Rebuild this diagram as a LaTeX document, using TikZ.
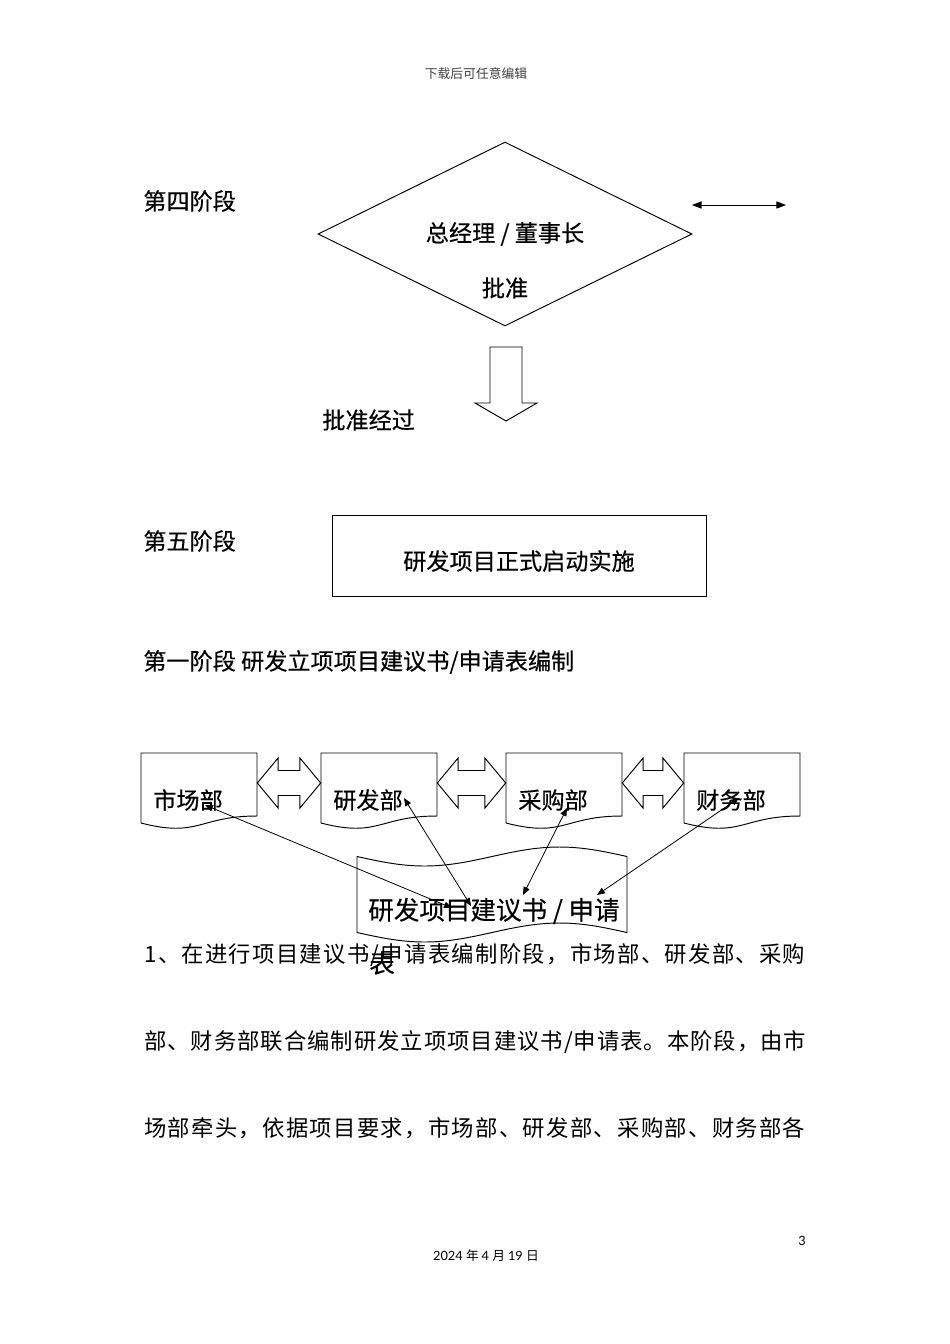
\documentclass[tikz,border=0pt]{standalone}
\usepackage{fontspec}
\setmainfont{Noto Sans CJK SC}
\newfontfamily\lblfont[FakeBold=0.35]{Noto Sans CJK SC}
\newfontfamily\latofont{Lato}
\usetikzlibrary{arrows.meta,calc,shapes.geometric}
\def\spreadtext#1{\sprfirst#1\relax}
\def\sprfirst#1{#1\sprloop}
\def\sprloop#1{\ifx#1\relax\else\hskip0pt plus 1fil #1\expandafter\sprloop\fi}
\tikzset{
  txt/.style={font=\fontsize{14pt}{16pt}\selectfont, inner sep=0pt, text=black},
  lbl/.style={font=\lblfont\fontsize{14.5pt}{17pt}\selectfont, inner sep=0pt, text=black},
  big/.style={font=\lblfont\fontsize{16pt}{18pt}\selectfont, inner sep=0pt, text=black},
  small/.style={font=\fontsize{8pt}{10pt}\selectfont, inner sep=0pt, text=black!75},
  ln/.style={line width=0.6pt, draw=black},
  conn/.style={line width=0.5pt, {Triangle[length=5pt,width=4pt]}-{Triangle[length=5pt,width=4pt]}},
  frame/.style={draw=none, inner sep=0pt}
}
\begin{document}
\begin{tikzpicture}[x=0.6263pt,y=-0.6263pt]
\useasboundingbox[fill=white] (0,0) rectangle (950,1344);

% header / footer
\node[small] (hdr) at (476,74) {下载后可任意编辑};
\node[small,text=black] (date) at (486,1256) {\latofont 2024 \rmfamily 年 \latofont 4 \rmfamily 月 \latofont 19 \rmfamily 日};
\node[small,text=black] (pg) at (802,1241) {\latofont 3};

% ---- stage 4 ----
\node[lbl,anchor=west] (s4) at (143,201) {第四阶段};
\node[diamond, ln, inner sep=0pt, minimum width=234.2pt, minimum height=115.2pt] (dia) at (505,234) {};
\node[lbl] (diaT1) at (505,234) {总经理 / 董事长};
\node[lbl] (diaT2) at (505,288) {批准};
\coordinate (dal) at (692,205);
\coordinate (dar) at (786,205);
\draw[ln, line width=0.5pt, {Triangle[length=6pt,width=4.5pt]}-{Triangle[length=6pt,width=4.5pt]}] (dal) -- (dar);

% hollow down arrow
\draw[ln] (490,347) -- (522,347) -- (522,403) -- (537,403) -- (506,421) -- (475,403) -- (490,403) -- cycle;
\node[lbl,anchor=west] (pass) at (322,420) {批准经过};

% ---- stage 5 ----
\node[lbl,anchor=west] (s5) at (143,541) {第五阶段};
\node[ln, rectangle, inner sep=0pt, minimum width=234.2pt, minimum height=50.7pt] (impl) at (519,555.5) {};
\node[lbl] (implT) at (519,561) {研发项目正式启动实施};

% ---- stage 1 ----
\node[lbl,anchor=west] (s1) at (143,662) {第一阶段 研发立项项目建议书/申请表编制};

% department documents
\foreach \nm/\xl/\lab in {mkt/141/市场部, rnd/321/研发部, pur/506/采购部, fin/684/财务部}{
  \pgfmathsetmacro{\xr}{\xl+116}
  \pgfmathsetmacro{\xm}{\xl+58}
  \node[frame, minimum width=72.65pt, minimum height=47.6pt] (\nm) at (\xm,791) {};
  \draw[ln] (\xl,823) -- (\xl,753) -- (\xr,753) -- (\xr,816)
     .. controls (\xm,816) and (\xm,838) .. (\xl,823);
  \node[lbl,anchor=west] (\nm T) at (\xl+12,800) {\lab};
}

% hollow double arrows between documents
\foreach \a/\b in {mkt/rnd, rnd/pur, pur/fin}{
  \draw[ln] let \p1=(\a.east), \p2=(\b.west) in
    (\x1,783) -- (\x1+13,758) -- (\x1+13,770.5) -- (\x2-13,770.5) -- (\x2-13,758)
    -- (\x2,783) -- (\x2-13,808) -- (\x2-13,795.5) -- (\x1+13,795.5) -- (\x1+13,808) -- cycle;
}

% punched tape document
\coordinate (tape) at (492,894.5);
\draw[ln, fill=white] (357,856.5) sin (424.5,866) cos (492,856.5) sin (559.5,847) cos (627,856.5)
  -- (627,932.5) sin (559.5,923) cos (492,932.5) sin (424.5,942) cos (357,932.5) -- cycle;

% paragraph
\node[txt,anchor=west] (p1) at (144,955) {\makebox[414pt][s]{\spreadtext{1、在进行项目建议书/申请表编制阶段，市场部、研发部、采购}}};
\node[txt,anchor=west] (p2) at (144,1042) {\makebox[414.6pt][s]{\spreadtext{部、财务部联合编制研发立项项目建议书/申请表。本阶段，由市}}};
\node[txt,anchor=west] (p3) at (144,1128) {\makebox[414pt][s]{\spreadtext{场部牵头，依据项目要求，市场部、研发部、采购部、财务部各}}};

\node[big,anchor=west] (tapeT1) at (368,911) {研发项目建议书 / 申请};
\node[big,anchor=west] (tapeT2) at (369,963) {表};

% connectors
\coordinate (cm1) at (205,805);  \coordinate (cm2) at (452,908);
\coordinate (cr1) at (404,798);  \coordinate (cr2) at (471,906);
\coordinate (cp1) at (567,808);  \coordinate (cp2) at (523,895);
\coordinate (cf1) at (739,798);  \coordinate (cf2) at (597,895);
\draw[conn] (cm1) -- (cm2);
\draw[conn] (cr1) -- (cr2);
\draw[conn] (cp1) -- (cp2);
\draw[conn] (cf1) -- (cf2);
\end{tikzpicture}
\end{document}
